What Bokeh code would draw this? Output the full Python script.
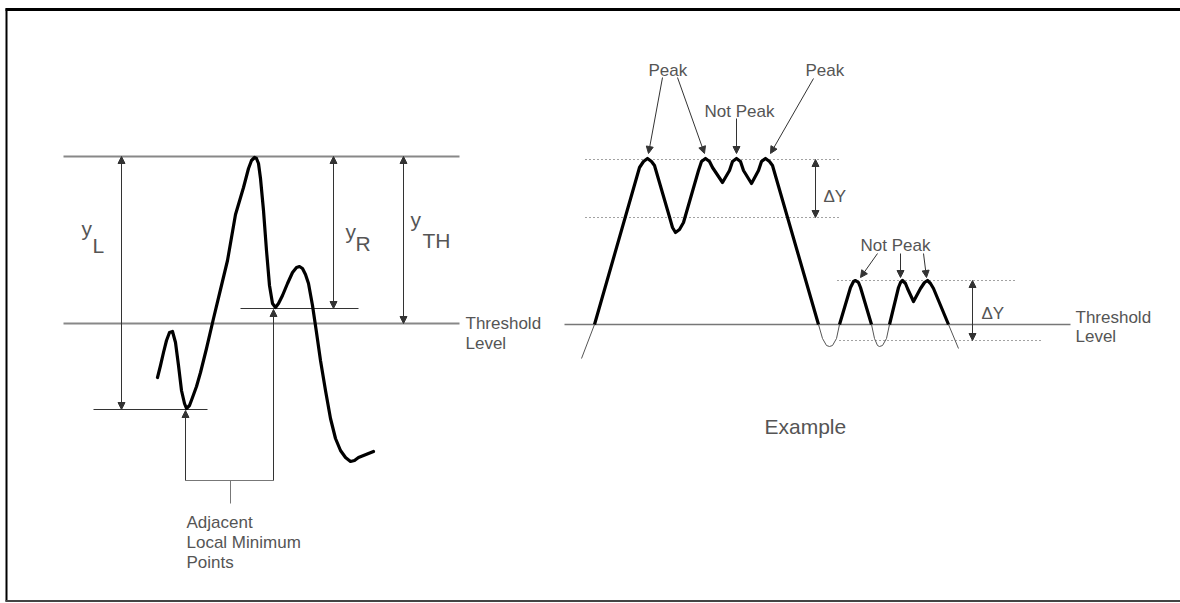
from bokeh.plotting import figure
from bokeh.models import Range1d, Arrow, NormalHead, ColumnDataSource
from bokeh.core.properties import value
from bokeh.embed import file_html
from bokeh.resources import INLINE

# ---------------- data (diagram coordinates) ----------------
# Left panel: signal curve
left_curve_x = [157, 160, 163, 166, 169, 172, 175, 178, 181, 184, 186, 189, 192, 196, 200, 206, 213, 220, 227, 235, 243,
                248, 251, 254, 256, 258, 260, 263, 266, 269, 272, 275, 278, 282, 287, 292, 296, 299, 302, 305, 308,
                312, 316, 320, 325, 330, 335, 340, 345, 350, 354, 358, 363, 368, 373]
left_curve_y = [377, 365, 352, 340, 332, 331, 342, 365, 390, 403, 408, 405, 397, 386, 372, 348, 318, 289, 260, 214, 187,
                168, 160, 157, 158, 163, 178, 210, 250, 285, 303, 307, 303, 295, 283, 272, 267, 266, 268, 274, 283,
                305, 332, 360, 390, 418, 438, 450, 457, 461, 460, 457, 455, 453, 451]

left_top_level = 156
left_threshold = 323
left_min_L = 409
left_min_R = 308

# Right panel: thick portions (above threshold) and thin portions (below threshold)
right_thick_x = [
    [594, 639, 643, 647, 651, 654, 668, 672, 675, 679, 683, 698, 701, 705, 709, 712, 722, 729, 732, 736, 740, 743,
     751, 758, 761, 765, 769, 772, 818],
    [839, 850, 853, 855, 858, 860, 871],
    [889, 898, 900, 902, 905, 907, 913, 920, 924, 927, 930, 933, 948],
]
right_thick_y = [
    [324, 167, 161, 158, 161, 165, 213, 227, 232, 229, 222, 170, 161, 158, 161, 167, 182, 170, 161, 158, 161, 170,
     183, 170, 161, 158, 161, 165, 324],
    [324, 287, 281, 280, 282, 287, 324],
    [324, 287, 282, 280, 283, 288, 301, 288, 282, 280, 283, 288, 324],
]
right_thin_x = [[581, 594], [818, 822, 826, 829, 832, 836, 839], [871, 874, 877, 879, 882, 886, 889], [948, 958]]
right_thin_y = [[358, 324], [324, 338, 345, 346, 345, 338, 324], [324, 338, 345, 346, 345, 338, 324], [324, 348]]

right_threshold = 324
dotted_y = [159, 217, 280, 340]
dotted_x0 = [585, 585, 837, 839]
dotted_x1 = [841, 841, 1016, 1043]

# Arrows (single head at end)
arr1_x0 = [662, 677, 736, 813, 877, 900, 923, 185, 273]
arr1_y0 = [77, 77, 118, 78, 253, 253, 253, 480, 480]
arr1_x1 = [648, 704, 736, 770, 860, 900, 926, 185, 273]
arr1_y1 = [153, 153, 153, 153, 277, 277, 277, 410, 309]

# Double-headed arrows
arr2_x = [121, 333, 403, 815, 972]
arr2_y0 = [156, 156, 156, 159, 280]
arr2_y1 = [409, 308, 323, 217, 340]

# Texts
label_text = ["Threshold", "Level", "Threshold", "Level", "Peak", "Peak", "Not Peak", "Not Peak",
              "Adjacent", "Local Minimum", "Points", "\u0394Y", "\u0394Y"]
label_x = [465, 465, 1075, 1075, 648, 805, 704, 860, 186, 186, 186, 823, 981]
label_y = [323, 343, 317, 336, 70, 70, 111, 245, 522, 542, 562, 196, 313]

sym_text = ["y", "L", "y", "R", "y", "TH"]
sym_x = [81, 92, 345, 355, 410, 422]
sym_y = [228, 245, 231, 243, 219, 240]

# ---------------- figure ----------------
W, H = 1180, 603
p = figure(width=W, height=H, x_range=Range1d(0, W), y_range=Range1d(H, 0),
           output_backend="svg", toolbar_location=None, x_axis_type=None, y_axis_type=None,
           min_border=0, min_border_left=0, min_border_right=0, min_border_top=0, min_border_bottom=0)
p.grid.visible = False
p.outline_line_color = None
p.background_fill_color = "white"
p.border_fill_color = "white"

FONT = value("Liberation Sans")
TXT = "#555555"
LN = "#333333"

# frame
p.line([5, 1180], [9, 9], line_color="black", line_width=3)
p.line([6, 6], [8, 601], line_color="black", line_width=2)
p.line([5, 1180], [600.5, 600.5], line_color="#444444", line_width=2)

# left panel horizontal levels
p.line([63, 459], [left_top_level, left_top_level], line_color="#888888", line_width=2)
p.line([63, 459], [left_threshold, left_threshold], line_color="#888888", line_width=2)
p.line([93, 207], [left_min_L, left_min_L], line_color=LN, line_width=1)
p.line([240, 358], [left_min_R, left_min_R], line_color=LN, line_width=1)

# bracket
p.line([185, 273], [480, 480], line_color="#777777", line_width=1)
p.line([230, 230], [480, 503], line_color="#777777", line_width=1)

# left curve
p.line(left_curve_x, left_curve_y, line_color="black", line_width=3.2, line_join="round", line_cap="round")

# right panel
p.line([564, 1070], [right_threshold, right_threshold], line_color="#777777", line_width=1.5)
p.segment(x0=dotted_x0, y0=dotted_y, x1=dotted_x1, y1=dotted_y, line_color="#444444",
          line_width=1, line_dash="1 3")
p.multi_line(right_thin_x, right_thin_y, line_color="#555555", line_width=1)
p.multi_line(right_thick_x, right_thick_y, line_color="black", line_width=3.2, line_join="round")

# arrows
src1 = ColumnDataSource(dict(x0=arr1_x0, y0=arr1_y0, x1=arr1_x1, y1=arr1_y1))
p.add_layout(Arrow(source=src1, x_start="x0", y_start="y0", x_end="x1", y_end="y1",
                   line_color=LN, line_width=1,
                   end=NormalHead(size=7, fill_color=LN, line_color=LN)))
src2 = ColumnDataSource(dict(x=arr2_x, y0=arr2_y0, y1=arr2_y1))
p.add_layout(Arrow(source=src2, x_start="x", y_start="y0", x_end="x", y_end="y1",
                   line_color=LN, line_width=1,
                   start=NormalHead(size=7, fill_color=LN, line_color=LN),
                   end=NormalHead(size=7, fill_color=LN, line_color=LN)))

# texts
p.text(x=label_x, y=label_y, text=label_text, text_font=FONT, text_font_size="17px",
       text_color=TXT, text_baseline="alphabetic", text_align="left")
p.text(x=sym_x, y=sym_y, text=sym_text, text_font=FONT, text_font_size="21px",
       text_color=TXT, text_baseline="alphabetic", text_align="left")
p.text(x=[764], y=[426], text=["Example"], text_font=FONT, text_font_size="21px",
       text_color=TXT, text_baseline="alphabetic", text_align="left")

open("out.html", "w").write(file_html(p, INLINE))
